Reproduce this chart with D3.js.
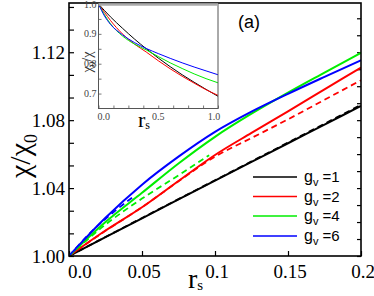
<!DOCTYPE html>
<html>
<head>
<meta charset="utf-8">
<script src="https://cdn.jsdelivr.net/npm/d3@7"></script>
<style>
  body { margin: 0; background: #fff; }
  svg { display: block; }
  .serif { font-family: "Liberation Serif", "Times New Roman", serif; }
  .sans { font-family: "Liberation Sans", Arial, sans-serif; }
</style>
</head>
<body>
<svg id="chart" width="374" height="296"></svg>
<script>
// Main panel: chi/chi0 vs r_s
const rMain = [0, 0.025, 0.05, 0.075, 0.1, 0.125, 0.15, 0.175, 0.2];
const chiG1 = [1, 1.0111, 1.0222, 1.0333, 1.0444, 1.0554, 1.0664, 1.0774, 1.0884];
const chiG1Dash = [1, 1.0112, 1.0224, 1.0335, 1.0446, 1.0557, 1.0668, 1.0779, 1.0890];
const chiG2 = [1, 1.0150, 1.0287, 1.0442, 1.0595, 1.0725, 1.0852, 1.0981, 1.1110];
const chiG2Dash = [1, 1.0148, 1.0287, 1.0440, 1.0585, 1.0695, 1.0805, 1.0920, 1.1035];
const chiG4 = [1, 1.0200, 1.0372, 1.0545, 1.0702, 1.0838, 1.0962, 1.1080, 1.1197];
const chiG6 = [1, 1.0225, 1.0420, 1.0585, 1.0731, 1.0850, 1.0955, 1.1055, 1.1153];
const rG4Dash = [0, 0.025, 0.05, 0.075, 0.096];
const chiG4Dash = [1, 1.0185, 1.0338, 1.0475, 1.0594];
const rG6Dash = [0, 0.015, 0.03, 0.045];
const chiG6Dash = [1, 1.0140, 1.0255, 1.0355];

// Inset: chi0/chi vs r_s
const rInset = [0, 0.05, 0.1, 0.2, 0.3, 0.4, 0.5, 0.6, 0.7, 0.8, 0.9, 1.0];
const invG1 = [1, 0.978, 0.957, 0.919, 0.883, 0.850, 0.819, 0.790, 0.763, 0.738, 0.714, 0.691];
const invG2 = [1, 0.972, 0.945, 0.900, 0.866, 0.839, 0.810, 0.783, 0.758, 0.735, 0.713, 0.694];
const invG4 = [1, 0.964, 0.934, 0.893, 0.866, 0.846, 0.824, 0.803, 0.784, 0.766, 0.750, 0.736];
const invG6 = [1, 0.960, 0.932, 0.897, 0.871, 0.851, 0.834, 0.818, 0.803, 0.789, 0.776, 0.763];

// Ticks and labels
const xTickLabels = [0, 0.05, 0.1, 0.15, 0.2];
const xTickText = ["0.0", "0.05", "0.1", "0.15", "0.2"];
const yTickLabels = [1.00, 1.04, 1.08, 1.12];
const insetXLabels = [0, 0.5, 1.0];
const insetYLabels = [0.7, 0.8, 0.9, 1.0];
const legendLabels = ["1", "2", "4", "6"];

const colors = { g1: "#000000", g2: "#ff0000", g4: "#00ee00", g6: "#0000ff" };

const svg = d3.select("#chart");

const x = d3.scaleLinear().domain([0, 0.2]).range([69, 361]);
const y = d3.scaleLinear().domain([1.0, 1.149]).range([256, 3]);

svg.append("defs").append("clipPath").attr("id", "plot-clip")
    .append("rect").attr("x", 69).attr("y", 3).attr("width", 292).attr("height", 253);

// Axes ticks (inward)
const minorY = d3.range(0, 12).map((k) => 1 + k * 0.04 / 3);
svg.append("g")
    .attr("transform", "translate(69,0)")
    .call(d3.axisLeft(y).tickValues(minorY).tickSizeInner(-5).tickSizeOuter(0).tickFormat(""))
    .call((g) => g.select(".domain").remove());
const rightTicks = d3.range(0, 15).map((k) => 1 + k * 0.01);
svg.append("g")
    .attr("transform", "translate(361,0)")
    .call(d3.axisRight(y).tickValues(rightTicks).tickSizeInner(-4).tickSizeOuter(0).tickFormat(""))
    .call((g) => g.select(".domain").remove());
svg.append("g")
    .attr("transform", "translate(0,256)")
    .call(d3.axisBottom(x).tickValues(xTickLabels).tickSizeInner(-5).tickSizeOuter(0).tickFormat(""))
    .call((g) => g.select(".domain").remove());
svg.selectAll(".tick line").attr("stroke", "#000").attr("stroke-width", 1.2);

// Tick labels
svg.append("g").attr("class", "serif").attr("font-size", 19)
    .selectAll("text").data(yTickLabels).enter().append("text")
    .attr("x", 65).attr("y", (d) => y(d) + 6.5)
    .attr("text-anchor", "end")
    .text((d) => d.toFixed(2));
svg.append("g").attr("class", "serif").attr("font-size", 19)
    .selectAll("text").data(xTickLabels).enter().append("text")
    .attr("x", (d, i) => (i === 0 ? x(d) - 1 : x(d) + 2))
    .attr("y", 278)
    .attr("text-anchor", (d, i) => (i === 0 ? "start" : "middle"))
    .text((d, i) => xTickText[i]);

// Curves
const line = (xs, ys, sx, sy) =>
    d3.line().x((d) => sx(d[0])).y((d) => sy(d[1])).curve(d3.curveMonotoneX)(d3.zip(xs, ys));

const plot = svg.append("g").attr("clip-path", "url(#plot-clip)").attr("fill", "none");
const solids = [
    [chiG1, colors.g1], [chiG2, colors.g2], [chiG4, colors.g4], [chiG6, colors.g6],
];
solids.forEach(([vals, c]) => {
    plot.append("path").attr("d", line(rMain, vals, x, y))
        .attr("stroke", c).attr("stroke-width", 2);
});
const dashed = [
    [rMain, chiG1Dash, colors.g1], [rMain, chiG2Dash, colors.g2],
    [rG4Dash, chiG4Dash, colors.g4], [rG6Dash, chiG6Dash, colors.g6],
];
dashed.forEach(([xs, vals, c]) => {
    plot.append("path").attr("d", line(xs, vals, x, y))
        .attr("stroke", c).attr("stroke-width", 1.8).attr("stroke-dasharray", "6,4");
});

// Main frame
svg.append("rect").attr("x", 69).attr("y", 3).attr("width", 292).attr("height", 253)
    .attr("fill", "none").attr("stroke", "#000").attr("stroke-width", 1.6);

// Axis titles
svg.append("text").attr("class", "serif").attr("font-size", 30)
    .attr("transform", "translate(30,156) rotate(-90)")
    .attr("text-anchor", "middle")
    .html("χ/χ<tspan font-size='18' dy='7'>0</tspan>");
svg.append("text").attr("class", "serif").attr("font-size", 28)
    .attr("x", 188).attr("y", 288)
    .html("r<tspan font-size='15' dy='2'>s</tspan>");

// "(a)"
svg.append("text").attr("class", "sans").attr("font-size", 18)
    .attr("x", 249).attr("y", 28).attr("text-anchor", "middle")
    .text("(a)");

// Legend
const legendY = [177, 196.5, 216, 236];
const legendColors = [colors.g1, colors.g2, colors.g4, colors.g6];
const legend = svg.append("g").attr("class", "sans");
legendLabels.forEach((lab, i) => {
    legend.append("line").attr("x1", 253).attr("x2", 297)
        .attr("y1", legendY[i]).attr("y2", legendY[i])
        .attr("stroke", legendColors[i]).attr("stroke-width", 1.5);
    legend.append("text").attr("x", 304).attr("y", legendY[i] + 5).attr("font-size", 16)
        .html(`g<tspan font-size='11' dy='4'>v</tspan><tspan dy='-4' font-size='15'> =${lab}</tspan>`);
});

// Inset
const xi = d3.scaleLinear().domain([0, 1]).range([98.5, 218]);
const yi = d3.scaleLinear().domain([0.65, 1.0]).range([108.5, 4]);
const inset = svg.append("g");
inset.append("rect").attr("x", 98.5).attr("y", 4).attr("width", 119.5).attr("height", 104.5)
    .attr("fill", "#fff");
inset.append("g")
    .attr("transform", "translate(98.5,0)")
    .call(d3.axisLeft(yi).tickValues(d3.range(0, 7).map((k) => 0.7 + k * 0.05)).tickSizeInner(-3).tickSizeOuter(0).tickFormat(""))
    .call((g) => g.select(".domain").remove());
inset.append("g")
    .attr("transform", "translate(0,108.5)")
    .call(d3.axisBottom(xi).tickValues(d3.range(0, 9).map((k) => k * 0.125)).tickSizeInner(-3).tickSizeOuter(0).tickFormat(""))
    .call((g) => g.select(".domain").remove());
inset.selectAll(".tick line").attr("stroke", "#555").attr("stroke-width", 0.8);

const insetCurves = [
    [invG1, colors.g1], [invG2, colors.g2], [invG4, colors.g4], [invG6, colors.g6],
];
insetCurves.forEach(([vals, c]) => {
    inset.append("path").attr("d", line(rInset, vals, xi, yi))
        .attr("fill", "none").attr("stroke", c).attr("stroke-width", 1);
});
inset.append("rect").attr("x", 98.5).attr("y", 4).attr("width", 119.5).attr("height", 104.5)
    .attr("fill", "none").attr("stroke", "#555").attr("stroke-width", 1);
inset.append("line").attr("x1", 98.5).attr("x2", 218).attr("y1", 4.5).attr("y2", 4.5)
    .attr("stroke", "#aaa").attr("stroke-width", 2.5);

inset.append("g").attr("class", "serif").attr("font-size", 10).attr("fill", "#444")
    .selectAll("text").data(insetYLabels).enter().append("text")
    .attr("x", 96.5).attr("y", (d) => yi(d) + 3.5)
    .attr("text-anchor", "end")
    .text((d) => d.toFixed(1));
inset.append("g").attr("class", "serif").attr("font-size", 10).attr("fill", "#444")
    .selectAll("text").data(insetXLabels).enter().append("text")
    .attr("x", (d, i) => (i === 0 ? xi(d) - 1 : i === 2 ? xi(d) - 4 : xi(d)))
    .attr("y", 120)
    .attr("text-anchor", (d, i) => (i === 0 ? "start" : "middle"))
    .text((d) => d.toFixed(1));
inset.append("text").attr("class", "serif").attr("font-size", 14).attr("fill", "#333")
    .attr("transform", "translate(92,62) rotate(-90)")
    .attr("text-anchor", "middle")
    .html("χ<tspan font-size='9' dy='3'>0</tspan><tspan dy='-3'>/χ</tspan>");
inset.append("text").attr("class", "serif").attr("font-size", 22)
    .attr("x", 138).attr("y", 127)
    .html("r<tspan font-size='12' dy='2'>s</tspan>");
</script>
</body>
</html>
